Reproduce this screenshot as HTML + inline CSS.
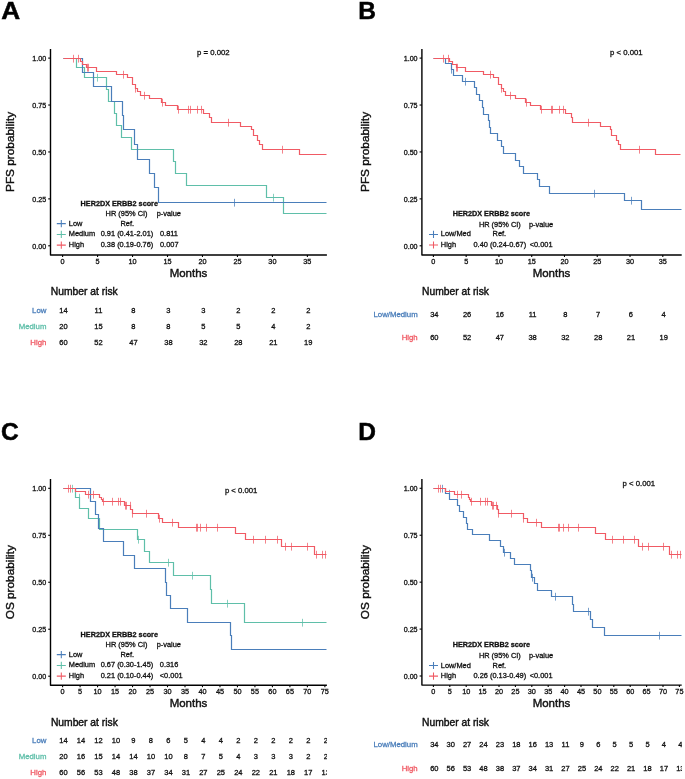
<!DOCTYPE html>
<html><head><meta charset="utf-8"><style>
html,body{margin:0;padding:0;background:#fff;}
svg{display:block;font-family:"Liberation Sans",sans-serif;will-change:transform;}
</style></head><body>
<svg width="685" height="779" viewBox="0 0 685 779">
<defs>
<clipPath id="cl"><rect x="0" y="0" width="327.1" height="779"/></clipPath>
<clipPath id="cr"><rect x="345" y="0" width="337.0" height="779"/></clipPath>
</defs>
<rect width="685" height="779" fill="#fff"/>
<g><path d="M50.50,48.90V255.00H326.90" fill="none" stroke="#000" stroke-width="1.4" stroke-linejoin="round"/>
<path d="M48.20,245.80H50.50" stroke="#000" stroke-width="1.1"/>
<text x="46.20" y="248.65" font-size="7.15" text-anchor="end" fill="#111" stroke="#111" stroke-width="0.30" font-weight="normal">0.00</text>
<path d="M48.20,198.88H50.50" stroke="#000" stroke-width="1.1"/>
<text x="46.20" y="201.72" font-size="7.15" text-anchor="end" fill="#111" stroke="#111" stroke-width="0.30" font-weight="normal">0.25</text>
<path d="M48.20,151.95H50.50" stroke="#000" stroke-width="1.1"/>
<text x="46.20" y="154.80" font-size="7.15" text-anchor="end" fill="#111" stroke="#111" stroke-width="0.30" font-weight="normal">0.50</text>
<path d="M48.20,105.03H50.50" stroke="#000" stroke-width="1.1"/>
<text x="46.20" y="107.88" font-size="7.15" text-anchor="end" fill="#111" stroke="#111" stroke-width="0.30" font-weight="normal">0.75</text>
<path d="M48.20,58.10H50.50" stroke="#000" stroke-width="1.1"/>
<text x="46.20" y="60.95" font-size="7.15" text-anchor="end" fill="#111" stroke="#111" stroke-width="0.30" font-weight="normal">1.00</text>
<path d="M62.60,255.00V257.00" stroke="#000" stroke-width="1.1"/>
<text x="62.60" y="264.00" font-size="7.30" text-anchor="middle" fill="#111" stroke="#111" stroke-width="0.30" font-weight="normal">0</text>
<path d="M97.57,255.00V257.00" stroke="#000" stroke-width="1.1"/>
<text x="97.57" y="264.00" font-size="7.30" text-anchor="middle" fill="#111" stroke="#111" stroke-width="0.30" font-weight="normal">5</text>
<path d="M132.54,255.00V257.00" stroke="#000" stroke-width="1.1"/>
<text x="132.54" y="264.00" font-size="7.30" text-anchor="middle" fill="#111" stroke="#111" stroke-width="0.30" font-weight="normal">10</text>
<path d="M167.51,255.00V257.00" stroke="#000" stroke-width="1.1"/>
<text x="167.51" y="264.00" font-size="7.30" text-anchor="middle" fill="#111" stroke="#111" stroke-width="0.30" font-weight="normal">15</text>
<path d="M202.48,255.00V257.00" stroke="#000" stroke-width="1.1"/>
<text x="202.48" y="264.00" font-size="7.30" text-anchor="middle" fill="#111" stroke="#111" stroke-width="0.30" font-weight="normal">20</text>
<path d="M237.45,255.00V257.00" stroke="#000" stroke-width="1.1"/>
<text x="237.45" y="264.00" font-size="7.30" text-anchor="middle" fill="#111" stroke="#111" stroke-width="0.30" font-weight="normal">25</text>
<path d="M272.42,255.00V257.00" stroke="#000" stroke-width="1.1"/>
<text x="272.42" y="264.00" font-size="7.30" text-anchor="middle" fill="#111" stroke="#111" stroke-width="0.30" font-weight="normal">30</text>
<path d="M307.39,255.00V257.00" stroke="#000" stroke-width="1.1"/>
<text x="307.39" y="264.00" font-size="7.30" text-anchor="middle" fill="#111" stroke="#111" stroke-width="0.30" font-weight="normal">35</text>
<text transform="translate(14.40,151.95) rotate(-90)" font-size="11.8" text-anchor="middle" fill="#111" stroke="#111" stroke-width="0.42">PFS probability</text>
<path d="M63.50,58.50H76.50V67.50H84.50V77.50H106.50V89.50H108.50V101.50H114.50V113.50H116.50V125.50H121.50V137.50H131.50V149.50H173.50V161.50H175.50V173.50H186.50V185.50H266.50V197.50H283.50V213.50H326.50" fill="none" stroke="#5fbfa9" stroke-width="1.20" stroke-linejoin="miter" stroke-linecap="butt"/>
<path d="M97.50,73.80V81.60M273.50,193.80V201.60" fill="none" stroke="#5fbfa9" stroke-width="0.75"/>
<path d="M63.50,58.50H82.50V72.50H93.50V86.50H111.50V101.50H122.50V115.50H123.50V129.50H134.50V144.50H137.50V159.50H149.50V173.50H154.50V187.50H158.50V202.50H326.50" fill="none" stroke="#4a7eba" stroke-width="1.20" stroke-linejoin="miter" stroke-linecap="butt"/>
<path d="M234.50,198.80V206.60" fill="none" stroke="#4a7eba" stroke-width="0.75"/>
<path d="M63.50,58.50H80.50V61.50H82.50V64.50H86.50V67.50H96.50V71.50H116.50V74.50H127.50V77.50H132.50V84.50H135.50V88.50H137.50V91.50H140.50V95.50H149.50V98.50H161.50V102.50H165.50V105.50H177.50V109.50H203.50V113.50H209.50V117.50H211.50V122.50H240.50V126.50H251.50V129.50H253.50V135.50H257.50V140.50H259.50V144.50H262.50V149.50H299.50V154.50H326.50" fill="none" stroke="#f05a64" stroke-width="1.20" stroke-linejoin="miter" stroke-linecap="butt"/>
<path d="M73.50,54.80V62.60M78.50,54.80V62.60M87.50,63.80V71.60M88.50,63.80V71.60M123.50,70.80V78.60M135.50,84.80V92.60M144.50,91.80V99.60M162.50,98.80V106.60M178.50,105.80V113.60M188.50,105.80V113.60M190.50,105.80V113.60M197.50,105.80V113.60M201.50,105.80V113.60M228.50,118.80V126.60M282.50,145.80V153.60" fill="none" stroke="#f05a64" stroke-width="0.75"/>
<text x="197.10" y="55.40" font-size="7.75" text-anchor="start" fill="#111" stroke="#111" stroke-width="0.30" font-weight="normal">p = 0.002</text>
<text x="80.60" y="206.10" font-size="7.25" text-anchor="start" fill="#111" stroke="#111" stroke-width="0.30" font-weight="bold">HER2DX ERBB2 score</text>
<text x="105.60" y="215.90" font-size="7.40" text-anchor="start" fill="#111" stroke="#111" stroke-width="0.30" font-weight="normal">HR (95% CI)</text>
<text x="156.70" y="215.90" font-size="7.40" text-anchor="start" fill="#111" stroke="#111" stroke-width="0.30" font-weight="normal">p-value</text>
<path d="M56.80,223.60H65.80M61.30,220.00V227.20" stroke="#4a7eba" stroke-width="1.05" fill="none"/>
<text x="68.80" y="225.60" font-size="7.40" text-anchor="start" fill="#111" stroke="#111" stroke-width="0.30" font-weight="normal">Low</text>
<text x="120.50" y="225.60" font-size="7.40" text-anchor="start" fill="#111" stroke="#111" stroke-width="0.30" font-weight="normal">Ref.</text>
<path d="M56.80,234.40H65.80M61.30,230.80V238.00" stroke="#5fbfa9" stroke-width="1.05" fill="none"/>
<text x="68.80" y="236.40" font-size="7.40" text-anchor="start" fill="#111" stroke="#111" stroke-width="0.30" font-weight="normal">Medium</text>
<text x="100.70" y="236.40" font-size="7.40" text-anchor="start" fill="#111" stroke="#111" stroke-width="0.30" font-weight="normal">0.91 (0.41-2.01)</text>
<text x="160.00" y="236.40" font-size="7.40" text-anchor="start" fill="#111" stroke="#111" stroke-width="0.30" font-weight="normal">0.811</text>
<path d="M56.80,245.10H65.80M61.30,241.50V248.70" stroke="#f05a64" stroke-width="1.05" fill="none"/>
<text x="68.80" y="247.10" font-size="7.40" text-anchor="start" fill="#111" stroke="#111" stroke-width="0.30" font-weight="normal">High</text>
<text x="100.70" y="247.10" font-size="7.40" text-anchor="start" fill="#111" stroke="#111" stroke-width="0.30" font-weight="normal">0.38 (0.19-0.76)</text>
<text x="160.00" y="247.10" font-size="7.40" text-anchor="start" fill="#111" stroke="#111" stroke-width="0.30" font-weight="normal">0.007</text>
<text x="188.50" y="276.90" font-size="11.50" text-anchor="middle" fill="#111" stroke="#111" stroke-width="0.42" font-weight="normal">Months</text>
<text x="50.80" y="295.30" font-size="10.30" text-anchor="start" fill="#111" stroke="#111" stroke-width="0.42" font-weight="normal">Number at risk</text>
<text x="46.40" y="312.60" font-size="7.80" text-anchor="end" fill="#4a7eba" stroke="#4a7eba" stroke-width="0.30" font-weight="normal">Low</text>
<text x="46.40" y="328.50" font-size="7.80" text-anchor="end" fill="#5fbfa9" stroke="#5fbfa9" stroke-width="0.30" font-weight="normal">Medium</text>
<text x="46.40" y="344.90" font-size="7.80" text-anchor="end" fill="#f05a64" stroke="#f05a64" stroke-width="0.30" font-weight="normal">High</text>
<text x="63.50" y="312.60" font-size="7.50" text-anchor="middle" fill="#111" stroke="#111" stroke-width="0.30" font-weight="normal">14</text>
<text x="98.47" y="312.60" font-size="7.50" text-anchor="middle" fill="#111" stroke="#111" stroke-width="0.30" font-weight="normal">11</text>
<text x="133.44" y="312.60" font-size="7.50" text-anchor="middle" fill="#111" stroke="#111" stroke-width="0.30" font-weight="normal">8</text>
<text x="168.41" y="312.60" font-size="7.50" text-anchor="middle" fill="#111" stroke="#111" stroke-width="0.30" font-weight="normal">3</text>
<text x="203.38" y="312.60" font-size="7.50" text-anchor="middle" fill="#111" stroke="#111" stroke-width="0.30" font-weight="normal">3</text>
<text x="238.35" y="312.60" font-size="7.50" text-anchor="middle" fill="#111" stroke="#111" stroke-width="0.30" font-weight="normal">2</text>
<text x="273.32" y="312.60" font-size="7.50" text-anchor="middle" fill="#111" stroke="#111" stroke-width="0.30" font-weight="normal">2</text>
<text x="308.29" y="312.60" font-size="7.50" text-anchor="middle" fill="#111" stroke="#111" stroke-width="0.30" font-weight="normal">2</text>
<text x="63.50" y="328.50" font-size="7.50" text-anchor="middle" fill="#111" stroke="#111" stroke-width="0.30" font-weight="normal">20</text>
<text x="98.47" y="328.50" font-size="7.50" text-anchor="middle" fill="#111" stroke="#111" stroke-width="0.30" font-weight="normal">15</text>
<text x="133.44" y="328.50" font-size="7.50" text-anchor="middle" fill="#111" stroke="#111" stroke-width="0.30" font-weight="normal">8</text>
<text x="168.41" y="328.50" font-size="7.50" text-anchor="middle" fill="#111" stroke="#111" stroke-width="0.30" font-weight="normal">8</text>
<text x="203.38" y="328.50" font-size="7.50" text-anchor="middle" fill="#111" stroke="#111" stroke-width="0.30" font-weight="normal">5</text>
<text x="238.35" y="328.50" font-size="7.50" text-anchor="middle" fill="#111" stroke="#111" stroke-width="0.30" font-weight="normal">5</text>
<text x="273.32" y="328.50" font-size="7.50" text-anchor="middle" fill="#111" stroke="#111" stroke-width="0.30" font-weight="normal">4</text>
<text x="308.29" y="328.50" font-size="7.50" text-anchor="middle" fill="#111" stroke="#111" stroke-width="0.30" font-weight="normal">2</text>
<text x="63.50" y="344.90" font-size="7.50" text-anchor="middle" fill="#111" stroke="#111" stroke-width="0.30" font-weight="normal">60</text>
<text x="98.47" y="344.90" font-size="7.50" text-anchor="middle" fill="#111" stroke="#111" stroke-width="0.30" font-weight="normal">52</text>
<text x="133.44" y="344.90" font-size="7.50" text-anchor="middle" fill="#111" stroke="#111" stroke-width="0.30" font-weight="normal">47</text>
<text x="168.41" y="344.90" font-size="7.50" text-anchor="middle" fill="#111" stroke="#111" stroke-width="0.30" font-weight="normal">38</text>
<text x="203.38" y="344.90" font-size="7.50" text-anchor="middle" fill="#111" stroke="#111" stroke-width="0.30" font-weight="normal">32</text>
<text x="238.35" y="344.90" font-size="7.50" text-anchor="middle" fill="#111" stroke="#111" stroke-width="0.30" font-weight="normal">28</text>
<text x="273.32" y="344.90" font-size="7.50" text-anchor="middle" fill="#111" stroke="#111" stroke-width="0.30" font-weight="normal">21</text>
<text x="308.29" y="344.90" font-size="7.50" text-anchor="middle" fill="#111" stroke="#111" stroke-width="0.30" font-weight="normal">19</text></g>
<g><path d="M421.90,48.90V255.00H681.70" fill="none" stroke="#000" stroke-width="1.4" stroke-linejoin="round"/>
<path d="M419.60,245.80H421.90" stroke="#000" stroke-width="1.1"/>
<text x="417.60" y="248.65" font-size="7.15" text-anchor="end" fill="#111" stroke="#111" stroke-width="0.30" font-weight="normal">0.00</text>
<path d="M419.60,198.88H421.90" stroke="#000" stroke-width="1.1"/>
<text x="417.60" y="201.72" font-size="7.15" text-anchor="end" fill="#111" stroke="#111" stroke-width="0.30" font-weight="normal">0.25</text>
<path d="M419.60,151.95H421.90" stroke="#000" stroke-width="1.1"/>
<text x="417.60" y="154.80" font-size="7.15" text-anchor="end" fill="#111" stroke="#111" stroke-width="0.30" font-weight="normal">0.50</text>
<path d="M419.60,105.03H421.90" stroke="#000" stroke-width="1.1"/>
<text x="417.60" y="107.88" font-size="7.15" text-anchor="end" fill="#111" stroke="#111" stroke-width="0.30" font-weight="normal">0.75</text>
<path d="M419.60,58.10H421.90" stroke="#000" stroke-width="1.1"/>
<text x="417.60" y="60.95" font-size="7.15" text-anchor="end" fill="#111" stroke="#111" stroke-width="0.30" font-weight="normal">1.00</text>
<path d="M433.40,255.00V257.00" stroke="#000" stroke-width="1.1"/>
<text x="433.40" y="264.00" font-size="7.30" text-anchor="middle" fill="#111" stroke="#111" stroke-width="0.30" font-weight="normal">0</text>
<path d="M466.17,255.00V257.00" stroke="#000" stroke-width="1.1"/>
<text x="466.17" y="264.00" font-size="7.30" text-anchor="middle" fill="#111" stroke="#111" stroke-width="0.30" font-weight="normal">5</text>
<path d="M498.94,255.00V257.00" stroke="#000" stroke-width="1.1"/>
<text x="498.94" y="264.00" font-size="7.30" text-anchor="middle" fill="#111" stroke="#111" stroke-width="0.30" font-weight="normal">10</text>
<path d="M531.71,255.00V257.00" stroke="#000" stroke-width="1.1"/>
<text x="531.71" y="264.00" font-size="7.30" text-anchor="middle" fill="#111" stroke="#111" stroke-width="0.30" font-weight="normal">15</text>
<path d="M564.48,255.00V257.00" stroke="#000" stroke-width="1.1"/>
<text x="564.48" y="264.00" font-size="7.30" text-anchor="middle" fill="#111" stroke="#111" stroke-width="0.30" font-weight="normal">20</text>
<path d="M597.25,255.00V257.00" stroke="#000" stroke-width="1.1"/>
<text x="597.25" y="264.00" font-size="7.30" text-anchor="middle" fill="#111" stroke="#111" stroke-width="0.30" font-weight="normal">25</text>
<path d="M630.02,255.00V257.00" stroke="#000" stroke-width="1.1"/>
<text x="630.02" y="264.00" font-size="7.30" text-anchor="middle" fill="#111" stroke="#111" stroke-width="0.30" font-weight="normal">30</text>
<path d="M662.79,255.00V257.00" stroke="#000" stroke-width="1.1"/>
<text x="662.79" y="264.00" font-size="7.30" text-anchor="middle" fill="#111" stroke="#111" stroke-width="0.30" font-weight="normal">35</text>
<text transform="translate(369.30,151.95) rotate(-90)" font-size="11.8" text-anchor="middle" fill="#111" stroke="#111" stroke-width="0.42">PFS probability</text>
<path d="M433.50,58.50H445.50V63.50H451.50V69.50H453.50V75.50H462.50V81.50H474.50V87.50H476.50V94.50H479.50V100.50H482.50V107.50H483.50V114.50H488.50V120.50H489.50V127.50H490.50V133.50H497.50V140.50H501.50V146.50H503.50V153.50H515.50V160.50H519.50V166.50H523.50V173.50H537.50V179.50H539.50V186.50H549.50V193.50H624.50V200.50H641.50V209.50H681.50" fill="none" stroke="#4a7eba" stroke-width="1.20" stroke-linejoin="miter" stroke-linecap="butt"/>
<path d="M451.50,65.80V73.60M465.50,77.80V85.60M594.50,189.80V197.60M631.50,196.80V204.60" fill="none" stroke="#4a7eba" stroke-width="0.75"/>
<path d="M433.50,58.50H449.50V61.50H452.50V64.50H456.50V67.50H465.50V71.50H483.50V74.50H493.50V77.50H498.50V84.50H501.50V88.50H503.50V91.50H505.50V95.50H515.50V98.50H525.50V102.50H530.50V105.50H540.50V109.50H565.50V113.50H571.50V117.50H572.50V122.50H600.50V126.50H610.50V129.50H611.50V135.50H616.50V140.50H618.50V144.50H620.50V149.50H655.50V154.50H680.50" fill="none" stroke="#f05a64" stroke-width="1.20" stroke-linejoin="miter" stroke-linecap="butt"/>
<path d="M443.50,54.80V62.60M448.50,54.80V62.60M456.50,63.80V71.60M457.50,63.80V71.60M490.50,70.80V78.60M501.50,84.80V92.60M510.50,91.80V99.60M526.50,98.80V106.60M541.50,105.80V113.60M551.50,105.80V113.60M552.50,105.80V113.60M559.50,105.80V113.60M563.50,105.80V113.60M588.50,118.80V126.60M639.50,145.80V153.60" fill="none" stroke="#f05a64" stroke-width="0.75"/>
<text x="610.10" y="55.40" font-size="7.75" text-anchor="start" fill="#111" stroke="#111" stroke-width="0.30" font-weight="normal">p &lt; 0.001</text>
<text x="452.70" y="216.40" font-size="7.25" text-anchor="start" fill="#111" stroke="#111" stroke-width="0.30" font-weight="bold">HER2DX ERBB2 score</text>
<text x="478.90" y="227.10" font-size="7.40" text-anchor="start" fill="#111" stroke="#111" stroke-width="0.30" font-weight="normal">HR (95% CI)</text>
<text x="528.90" y="227.10" font-size="7.40" text-anchor="start" fill="#111" stroke="#111" stroke-width="0.30" font-weight="normal">p-value</text>
<path d="M429.00,234.40H438.00M433.50,230.80V238.00" stroke="#4a7eba" stroke-width="1.05" fill="none"/>
<text x="440.80" y="236.40" font-size="7.40" text-anchor="start" fill="#111" stroke="#111" stroke-width="0.30" font-weight="normal">Low/Med</text>
<text x="492.60" y="236.40" font-size="7.40" text-anchor="start" fill="#111" stroke="#111" stroke-width="0.30" font-weight="normal">Ref.</text>
<path d="M429.00,245.00H438.00M433.50,241.40V248.60" stroke="#f05a64" stroke-width="1.05" fill="none"/>
<text x="440.80" y="247.00" font-size="7.40" text-anchor="start" fill="#111" stroke="#111" stroke-width="0.30" font-weight="normal">High</text>
<text x="473.50" y="247.00" font-size="7.40" text-anchor="start" fill="#111" stroke="#111" stroke-width="0.30" font-weight="normal">0.40 (0.24-0.67)</text>
<text x="529.70" y="247.00" font-size="7.40" text-anchor="start" fill="#111" stroke="#111" stroke-width="0.30" font-weight="normal">&lt;0.001</text>
<text x="551.50" y="277.20" font-size="11.50" text-anchor="middle" fill="#111" stroke="#111" stroke-width="0.42" font-weight="normal">Months</text>
<text x="422.00" y="295.30" font-size="10.30" text-anchor="start" fill="#111" stroke="#111" stroke-width="0.42" font-weight="normal">Number at risk</text>
<text x="417.70" y="316.60" font-size="7.80" text-anchor="end" fill="#4a7eba" stroke="#4a7eba" stroke-width="0.30" font-weight="normal">Low/Medium</text>
<text x="417.70" y="340.30" font-size="7.80" text-anchor="end" fill="#f05a64" stroke="#f05a64" stroke-width="0.30" font-weight="normal">High</text>
<text x="434.30" y="316.60" font-size="7.50" text-anchor="middle" fill="#111" stroke="#111" stroke-width="0.30" font-weight="normal">34</text>
<text x="467.07" y="316.60" font-size="7.50" text-anchor="middle" fill="#111" stroke="#111" stroke-width="0.30" font-weight="normal">26</text>
<text x="499.84" y="316.60" font-size="7.50" text-anchor="middle" fill="#111" stroke="#111" stroke-width="0.30" font-weight="normal">16</text>
<text x="532.61" y="316.60" font-size="7.50" text-anchor="middle" fill="#111" stroke="#111" stroke-width="0.30" font-weight="normal">11</text>
<text x="565.38" y="316.60" font-size="7.50" text-anchor="middle" fill="#111" stroke="#111" stroke-width="0.30" font-weight="normal">8</text>
<text x="598.15" y="316.60" font-size="7.50" text-anchor="middle" fill="#111" stroke="#111" stroke-width="0.30" font-weight="normal">7</text>
<text x="630.92" y="316.60" font-size="7.50" text-anchor="middle" fill="#111" stroke="#111" stroke-width="0.30" font-weight="normal">6</text>
<text x="663.69" y="316.60" font-size="7.50" text-anchor="middle" fill="#111" stroke="#111" stroke-width="0.30" font-weight="normal">4</text>
<text x="434.30" y="340.30" font-size="7.50" text-anchor="middle" fill="#111" stroke="#111" stroke-width="0.30" font-weight="normal">60</text>
<text x="467.07" y="340.30" font-size="7.50" text-anchor="middle" fill="#111" stroke="#111" stroke-width="0.30" font-weight="normal">52</text>
<text x="499.84" y="340.30" font-size="7.50" text-anchor="middle" fill="#111" stroke="#111" stroke-width="0.30" font-weight="normal">47</text>
<text x="532.61" y="340.30" font-size="7.50" text-anchor="middle" fill="#111" stroke="#111" stroke-width="0.30" font-weight="normal">38</text>
<text x="565.38" y="340.30" font-size="7.50" text-anchor="middle" fill="#111" stroke="#111" stroke-width="0.30" font-weight="normal">32</text>
<text x="598.15" y="340.30" font-size="7.50" text-anchor="middle" fill="#111" stroke="#111" stroke-width="0.30" font-weight="normal">28</text>
<text x="630.92" y="340.30" font-size="7.50" text-anchor="middle" fill="#111" stroke="#111" stroke-width="0.30" font-weight="normal">21</text>
<text x="663.69" y="340.30" font-size="7.50" text-anchor="middle" fill="#111" stroke="#111" stroke-width="0.30" font-weight="normal">19</text></g>
<g><path d="M50.50,479.00V685.20H326.90" fill="none" stroke="#000" stroke-width="1.4" stroke-linejoin="round"/>
<path d="M48.20,676.20H50.50" stroke="#000" stroke-width="1.1"/>
<text x="46.20" y="679.05" font-size="7.15" text-anchor="end" fill="#111" stroke="#111" stroke-width="0.30" font-weight="normal">0.00</text>
<path d="M48.20,629.23H50.50" stroke="#000" stroke-width="1.1"/>
<text x="46.20" y="632.08" font-size="7.15" text-anchor="end" fill="#111" stroke="#111" stroke-width="0.30" font-weight="normal">0.25</text>
<path d="M48.20,582.25H50.50" stroke="#000" stroke-width="1.1"/>
<text x="46.20" y="585.10" font-size="7.15" text-anchor="end" fill="#111" stroke="#111" stroke-width="0.30" font-weight="normal">0.50</text>
<path d="M48.20,535.28H50.50" stroke="#000" stroke-width="1.1"/>
<text x="46.20" y="538.13" font-size="7.15" text-anchor="end" fill="#111" stroke="#111" stroke-width="0.30" font-weight="normal">0.75</text>
<path d="M48.20,488.30H50.50" stroke="#000" stroke-width="1.1"/>
<text x="46.20" y="491.15" font-size="7.15" text-anchor="end" fill="#111" stroke="#111" stroke-width="0.30" font-weight="normal">1.00</text>
<path d="M62.60,685.20V687.20" stroke="#000" stroke-width="1.1"/>
<text x="62.60" y="694.00" font-size="7.30" text-anchor="middle" fill="#111" stroke="#111" stroke-width="0.30" font-weight="normal">0</text>
<path d="M80.09,685.20V687.20" stroke="#000" stroke-width="1.1"/>
<text x="80.09" y="694.00" font-size="7.30" text-anchor="middle" fill="#111" stroke="#111" stroke-width="0.30" font-weight="normal">5</text>
<path d="M97.57,685.20V687.20" stroke="#000" stroke-width="1.1"/>
<text x="97.57" y="694.00" font-size="7.30" text-anchor="middle" fill="#111" stroke="#111" stroke-width="0.30" font-weight="normal">10</text>
<path d="M115.06,685.20V687.20" stroke="#000" stroke-width="1.1"/>
<text x="115.06" y="694.00" font-size="7.30" text-anchor="middle" fill="#111" stroke="#111" stroke-width="0.30" font-weight="normal">15</text>
<path d="M132.54,685.20V687.20" stroke="#000" stroke-width="1.1"/>
<text x="132.54" y="694.00" font-size="7.30" text-anchor="middle" fill="#111" stroke="#111" stroke-width="0.30" font-weight="normal">20</text>
<path d="M150.03,685.20V687.20" stroke="#000" stroke-width="1.1"/>
<text x="150.03" y="694.00" font-size="7.30" text-anchor="middle" fill="#111" stroke="#111" stroke-width="0.30" font-weight="normal">25</text>
<path d="M167.51,685.20V687.20" stroke="#000" stroke-width="1.1"/>
<text x="167.51" y="694.00" font-size="7.30" text-anchor="middle" fill="#111" stroke="#111" stroke-width="0.30" font-weight="normal">30</text>
<path d="M185.00,685.20V687.20" stroke="#000" stroke-width="1.1"/>
<text x="185.00" y="694.00" font-size="7.30" text-anchor="middle" fill="#111" stroke="#111" stroke-width="0.30" font-weight="normal">35</text>
<path d="M202.48,685.20V687.20" stroke="#000" stroke-width="1.1"/>
<text x="202.48" y="694.00" font-size="7.30" text-anchor="middle" fill="#111" stroke="#111" stroke-width="0.30" font-weight="normal">40</text>
<path d="M219.97,685.20V687.20" stroke="#000" stroke-width="1.1"/>
<text x="219.97" y="694.00" font-size="7.30" text-anchor="middle" fill="#111" stroke="#111" stroke-width="0.30" font-weight="normal">45</text>
<path d="M237.45,685.20V687.20" stroke="#000" stroke-width="1.1"/>
<text x="237.45" y="694.00" font-size="7.30" text-anchor="middle" fill="#111" stroke="#111" stroke-width="0.30" font-weight="normal">50</text>
<path d="M254.93,685.20V687.20" stroke="#000" stroke-width="1.1"/>
<text x="254.93" y="694.00" font-size="7.30" text-anchor="middle" fill="#111" stroke="#111" stroke-width="0.30" font-weight="normal">55</text>
<path d="M272.42,685.20V687.20" stroke="#000" stroke-width="1.1"/>
<text x="272.42" y="694.00" font-size="7.30" text-anchor="middle" fill="#111" stroke="#111" stroke-width="0.30" font-weight="normal">60</text>
<path d="M289.91,685.20V687.20" stroke="#000" stroke-width="1.1"/>
<text x="289.91" y="694.00" font-size="7.30" text-anchor="middle" fill="#111" stroke="#111" stroke-width="0.30" font-weight="normal">65</text>
<path d="M307.39,685.20V687.20" stroke="#000" stroke-width="1.1"/>
<text x="307.39" y="694.00" font-size="7.30" text-anchor="middle" fill="#111" stroke="#111" stroke-width="0.30" font-weight="normal">70</text>
<path d="M324.88,685.20V687.20" stroke="#000" stroke-width="1.1"/>
<text x="324.88" y="694.00" font-size="7.30" text-anchor="middle" fill="#111" stroke="#111" stroke-width="0.30" font-weight="normal">75</text>
<text transform="translate(14.40,582.25) rotate(-90)" font-size="11.8" text-anchor="middle" fill="#111" stroke="#111" stroke-width="0.42">OS probability</text>
<path d="M63.50,488.50H75.50V497.50H79.50V508.50H88.50V518.50H99.50V529.50H137.50V539.50H144.50V551.50H149.50V562.50H173.50V575.50H210.50V589.50H211.50V603.50H244.50V622.50H326.50" fill="none" stroke="#5fbfa9" stroke-width="1.20" stroke-linejoin="miter" stroke-linecap="butt"/>
<path d="M72.50,484.80V492.60M79.50,493.80V501.60M138.50,535.80V543.60M168.50,558.80V566.60M192.50,571.80V579.60M227.50,599.80V607.60M302.50,618.80V626.60" fill="none" stroke="#5fbfa9" stroke-width="0.75"/>
<path d="M63.50,488.50H90.50V501.50H95.50V514.50H98.50V528.50H103.50V541.50H123.50V555.50H134.50V568.50H165.50V582.50H166.50V595.50H170.50V608.50H187.50V622.50H230.50V635.50H231.50V649.50H326.50" fill="none" stroke="#4a7eba" stroke-width="1.20" stroke-linejoin="miter" stroke-linecap="butt"/>
<path d="M63.50,488.50H75.50V491.50H85.50V494.50H99.50V497.50H101.50V499.50H102.50V501.50H124.50V505.50H130.50V509.50H132.50V513.50H158.50V518.50H162.50V522.50H178.50V527.50H235.50V533.50H245.50V539.50H281.50V546.50H314.50V554.50H326.50" fill="none" stroke="#f05a64" stroke-width="1.20" stroke-linejoin="miter" stroke-linecap="butt"/>
<path d="M68.50,484.80V492.60M70.50,484.80V492.60M88.50,490.80V498.60M93.50,490.80V498.60M103.50,497.80V505.60M112.50,497.80V505.60M118.50,497.80V505.60M120.50,497.80V505.60M125.50,501.80V509.60M126.50,501.80V509.60M130.50,501.80V509.60M132.50,509.80V517.60M146.50,509.80V517.60M159.50,514.80V522.60M172.50,518.80V526.60M196.50,523.80V531.60M197.50,523.80V531.60M200.50,523.80V531.60M206.50,523.80V531.60M217.50,523.80V531.60M253.50,535.80V543.60M265.50,535.80V543.60M277.50,535.80V543.60M285.50,542.80V550.60M291.50,542.80V550.60M307.50,542.80V550.60M316.50,550.80V558.60M322.50,550.80V558.60M325.50,550.80V558.60" fill="none" stroke="#f05a64" stroke-width="0.75"/>
<text x="224.90" y="493.40" font-size="7.75" text-anchor="start" fill="#111" stroke="#111" stroke-width="0.30" font-weight="normal">p &lt; 0.001</text>
<text x="80.60" y="637.30" font-size="7.25" text-anchor="start" fill="#111" stroke="#111" stroke-width="0.30" font-weight="bold">HER2DX ERBB2 score</text>
<text x="105.60" y="646.90" font-size="7.40" text-anchor="start" fill="#111" stroke="#111" stroke-width="0.30" font-weight="normal">HR (95% CI)</text>
<text x="156.70" y="646.90" font-size="7.40" text-anchor="start" fill="#111" stroke="#111" stroke-width="0.30" font-weight="normal">p-value</text>
<path d="M56.80,654.60H65.80M61.30,651.00V658.20" stroke="#4a7eba" stroke-width="1.05" fill="none"/>
<text x="68.80" y="656.60" font-size="7.40" text-anchor="start" fill="#111" stroke="#111" stroke-width="0.30" font-weight="normal">Low</text>
<text x="120.50" y="656.60" font-size="7.40" text-anchor="start" fill="#111" stroke="#111" stroke-width="0.30" font-weight="normal">Ref.</text>
<path d="M56.80,665.40H65.80M61.30,661.80V669.00" stroke="#5fbfa9" stroke-width="1.05" fill="none"/>
<text x="68.80" y="667.40" font-size="7.40" text-anchor="start" fill="#111" stroke="#111" stroke-width="0.30" font-weight="normal">Medium</text>
<text x="100.70" y="667.40" font-size="7.40" text-anchor="start" fill="#111" stroke="#111" stroke-width="0.30" font-weight="normal">0.67 (0.30-1.45)</text>
<text x="159.80" y="667.40" font-size="7.40" text-anchor="start" fill="#111" stroke="#111" stroke-width="0.30" font-weight="normal">0.316</text>
<path d="M56.80,676.10H65.80M61.30,672.50V679.70" stroke="#f05a64" stroke-width="1.05" fill="none"/>
<text x="68.80" y="678.10" font-size="7.40" text-anchor="start" fill="#111" stroke="#111" stroke-width="0.30" font-weight="normal">High</text>
<text x="100.70" y="678.10" font-size="7.40" text-anchor="start" fill="#111" stroke="#111" stroke-width="0.30" font-weight="normal">0.21 (0.10-0.44)</text>
<text x="159.80" y="678.10" font-size="7.40" text-anchor="start" fill="#111" stroke="#111" stroke-width="0.30" font-weight="normal">&lt;0.001</text>
<text x="188.50" y="706.90" font-size="11.50" text-anchor="middle" fill="#111" stroke="#111" stroke-width="0.42" font-weight="normal">Months</text>
<text x="50.90" y="726.00" font-size="10.30" text-anchor="start" fill="#111" stroke="#111" stroke-width="0.42" font-weight="normal">Number at risk</text>
<text x="46.40" y="742.70" font-size="7.80" text-anchor="end" fill="#4a7eba" stroke="#4a7eba" stroke-width="0.30" font-weight="normal">Low</text>
<text x="46.40" y="758.70" font-size="7.80" text-anchor="end" fill="#5fbfa9" stroke="#5fbfa9" stroke-width="0.30" font-weight="normal">Medium</text>
<text x="46.40" y="775.10" font-size="7.80" text-anchor="end" fill="#f05a64" stroke="#f05a64" stroke-width="0.30" font-weight="normal">High</text>
<g clip-path="url(#cl)">
<text x="63.50" y="742.70" font-size="7.50" text-anchor="middle" fill="#111" stroke="#111" stroke-width="0.30" font-weight="normal">14</text>
<text x="80.99" y="742.70" font-size="7.50" text-anchor="middle" fill="#111" stroke="#111" stroke-width="0.30" font-weight="normal">14</text>
<text x="98.47" y="742.70" font-size="7.50" text-anchor="middle" fill="#111" stroke="#111" stroke-width="0.30" font-weight="normal">12</text>
<text x="115.96" y="742.70" font-size="7.50" text-anchor="middle" fill="#111" stroke="#111" stroke-width="0.30" font-weight="normal">10</text>
<text x="133.44" y="742.70" font-size="7.50" text-anchor="middle" fill="#111" stroke="#111" stroke-width="0.30" font-weight="normal">9</text>
<text x="150.93" y="742.70" font-size="7.50" text-anchor="middle" fill="#111" stroke="#111" stroke-width="0.30" font-weight="normal">8</text>
<text x="168.41" y="742.70" font-size="7.50" text-anchor="middle" fill="#111" stroke="#111" stroke-width="0.30" font-weight="normal">6</text>
<text x="185.90" y="742.70" font-size="7.50" text-anchor="middle" fill="#111" stroke="#111" stroke-width="0.30" font-weight="normal">5</text>
<text x="203.38" y="742.70" font-size="7.50" text-anchor="middle" fill="#111" stroke="#111" stroke-width="0.30" font-weight="normal">4</text>
<text x="220.87" y="742.70" font-size="7.50" text-anchor="middle" fill="#111" stroke="#111" stroke-width="0.30" font-weight="normal">4</text>
<text x="238.35" y="742.70" font-size="7.50" text-anchor="middle" fill="#111" stroke="#111" stroke-width="0.30" font-weight="normal">2</text>
<text x="255.83" y="742.70" font-size="7.50" text-anchor="middle" fill="#111" stroke="#111" stroke-width="0.30" font-weight="normal">2</text>
<text x="273.32" y="742.70" font-size="7.50" text-anchor="middle" fill="#111" stroke="#111" stroke-width="0.30" font-weight="normal">2</text>
<text x="290.81" y="742.70" font-size="7.50" text-anchor="middle" fill="#111" stroke="#111" stroke-width="0.30" font-weight="normal">2</text>
<text x="308.29" y="742.70" font-size="7.50" text-anchor="middle" fill="#111" stroke="#111" stroke-width="0.30" font-weight="normal">2</text>
<text x="325.77" y="742.70" font-size="7.50" text-anchor="middle" fill="#111" stroke="#111" stroke-width="0.30" font-weight="normal">2</text>
<text x="63.50" y="758.70" font-size="7.50" text-anchor="middle" fill="#111" stroke="#111" stroke-width="0.30" font-weight="normal">20</text>
<text x="80.99" y="758.70" font-size="7.50" text-anchor="middle" fill="#111" stroke="#111" stroke-width="0.30" font-weight="normal">16</text>
<text x="98.47" y="758.70" font-size="7.50" text-anchor="middle" fill="#111" stroke="#111" stroke-width="0.30" font-weight="normal">15</text>
<text x="115.96" y="758.70" font-size="7.50" text-anchor="middle" fill="#111" stroke="#111" stroke-width="0.30" font-weight="normal">14</text>
<text x="133.44" y="758.70" font-size="7.50" text-anchor="middle" fill="#111" stroke="#111" stroke-width="0.30" font-weight="normal">14</text>
<text x="150.93" y="758.70" font-size="7.50" text-anchor="middle" fill="#111" stroke="#111" stroke-width="0.30" font-weight="normal">10</text>
<text x="168.41" y="758.70" font-size="7.50" text-anchor="middle" fill="#111" stroke="#111" stroke-width="0.30" font-weight="normal">10</text>
<text x="185.90" y="758.70" font-size="7.50" text-anchor="middle" fill="#111" stroke="#111" stroke-width="0.30" font-weight="normal">8</text>
<text x="203.38" y="758.70" font-size="7.50" text-anchor="middle" fill="#111" stroke="#111" stroke-width="0.30" font-weight="normal">7</text>
<text x="220.87" y="758.70" font-size="7.50" text-anchor="middle" fill="#111" stroke="#111" stroke-width="0.30" font-weight="normal">5</text>
<text x="238.35" y="758.70" font-size="7.50" text-anchor="middle" fill="#111" stroke="#111" stroke-width="0.30" font-weight="normal">4</text>
<text x="255.83" y="758.70" font-size="7.50" text-anchor="middle" fill="#111" stroke="#111" stroke-width="0.30" font-weight="normal">3</text>
<text x="273.32" y="758.70" font-size="7.50" text-anchor="middle" fill="#111" stroke="#111" stroke-width="0.30" font-weight="normal">3</text>
<text x="290.81" y="758.70" font-size="7.50" text-anchor="middle" fill="#111" stroke="#111" stroke-width="0.30" font-weight="normal">3</text>
<text x="308.29" y="758.70" font-size="7.50" text-anchor="middle" fill="#111" stroke="#111" stroke-width="0.30" font-weight="normal">2</text>
<text x="325.77" y="758.70" font-size="7.50" text-anchor="middle" fill="#111" stroke="#111" stroke-width="0.30" font-weight="normal">2</text>
<text x="63.50" y="775.10" font-size="7.50" text-anchor="middle" fill="#111" stroke="#111" stroke-width="0.30" font-weight="normal">60</text>
<text x="80.99" y="775.10" font-size="7.50" text-anchor="middle" fill="#111" stroke="#111" stroke-width="0.30" font-weight="normal">56</text>
<text x="98.47" y="775.10" font-size="7.50" text-anchor="middle" fill="#111" stroke="#111" stroke-width="0.30" font-weight="normal">53</text>
<text x="115.96" y="775.10" font-size="7.50" text-anchor="middle" fill="#111" stroke="#111" stroke-width="0.30" font-weight="normal">48</text>
<text x="133.44" y="775.10" font-size="7.50" text-anchor="middle" fill="#111" stroke="#111" stroke-width="0.30" font-weight="normal">38</text>
<text x="150.93" y="775.10" font-size="7.50" text-anchor="middle" fill="#111" stroke="#111" stroke-width="0.30" font-weight="normal">37</text>
<text x="168.41" y="775.10" font-size="7.50" text-anchor="middle" fill="#111" stroke="#111" stroke-width="0.30" font-weight="normal">34</text>
<text x="185.90" y="775.10" font-size="7.50" text-anchor="middle" fill="#111" stroke="#111" stroke-width="0.30" font-weight="normal">31</text>
<text x="203.38" y="775.10" font-size="7.50" text-anchor="middle" fill="#111" stroke="#111" stroke-width="0.30" font-weight="normal">27</text>
<text x="220.87" y="775.10" font-size="7.50" text-anchor="middle" fill="#111" stroke="#111" stroke-width="0.30" font-weight="normal">25</text>
<text x="238.35" y="775.10" font-size="7.50" text-anchor="middle" fill="#111" stroke="#111" stroke-width="0.30" font-weight="normal">24</text>
<text x="255.83" y="775.10" font-size="7.50" text-anchor="middle" fill="#111" stroke="#111" stroke-width="0.30" font-weight="normal">22</text>
<text x="273.32" y="775.10" font-size="7.50" text-anchor="middle" fill="#111" stroke="#111" stroke-width="0.30" font-weight="normal">21</text>
<text x="290.81" y="775.10" font-size="7.50" text-anchor="middle" fill="#111" stroke="#111" stroke-width="0.30" font-weight="normal">18</text>
<text x="308.29" y="775.10" font-size="7.50" text-anchor="middle" fill="#111" stroke="#111" stroke-width="0.30" font-weight="normal">17</text>
<text x="325.77" y="775.10" font-size="7.50" text-anchor="middle" fill="#111" stroke="#111" stroke-width="0.30" font-weight="normal">13</text>
</g></g>
<g><path d="M421.90,479.00V685.10H681.70" fill="none" stroke="#000" stroke-width="1.4" stroke-linejoin="round"/>
<path d="M419.60,676.00H421.90" stroke="#000" stroke-width="1.1"/>
<text x="417.60" y="678.85" font-size="7.15" text-anchor="end" fill="#111" stroke="#111" stroke-width="0.30" font-weight="normal">0.00</text>
<path d="M419.60,629.08H421.90" stroke="#000" stroke-width="1.1"/>
<text x="417.60" y="631.93" font-size="7.15" text-anchor="end" fill="#111" stroke="#111" stroke-width="0.30" font-weight="normal">0.25</text>
<path d="M419.60,582.15H421.90" stroke="#000" stroke-width="1.1"/>
<text x="417.60" y="585.00" font-size="7.15" text-anchor="end" fill="#111" stroke="#111" stroke-width="0.30" font-weight="normal">0.50</text>
<path d="M419.60,535.23H421.90" stroke="#000" stroke-width="1.1"/>
<text x="417.60" y="538.08" font-size="7.15" text-anchor="end" fill="#111" stroke="#111" stroke-width="0.30" font-weight="normal">0.75</text>
<path d="M419.60,488.30H421.90" stroke="#000" stroke-width="1.1"/>
<text x="417.60" y="491.15" font-size="7.15" text-anchor="end" fill="#111" stroke="#111" stroke-width="0.30" font-weight="normal">1.00</text>
<path d="M433.40,685.10V687.10" stroke="#000" stroke-width="1.1"/>
<text x="433.40" y="694.00" font-size="7.30" text-anchor="middle" fill="#111" stroke="#111" stroke-width="0.30" font-weight="normal">0</text>
<path d="M449.80,685.10V687.10" stroke="#000" stroke-width="1.1"/>
<text x="449.80" y="694.00" font-size="7.30" text-anchor="middle" fill="#111" stroke="#111" stroke-width="0.30" font-weight="normal">5</text>
<path d="M466.20,685.10V687.10" stroke="#000" stroke-width="1.1"/>
<text x="466.20" y="694.00" font-size="7.30" text-anchor="middle" fill="#111" stroke="#111" stroke-width="0.30" font-weight="normal">10</text>
<path d="M482.60,685.10V687.10" stroke="#000" stroke-width="1.1"/>
<text x="482.60" y="694.00" font-size="7.30" text-anchor="middle" fill="#111" stroke="#111" stroke-width="0.30" font-weight="normal">15</text>
<path d="M499.00,685.10V687.10" stroke="#000" stroke-width="1.1"/>
<text x="499.00" y="694.00" font-size="7.30" text-anchor="middle" fill="#111" stroke="#111" stroke-width="0.30" font-weight="normal">20</text>
<path d="M515.40,685.10V687.10" stroke="#000" stroke-width="1.1"/>
<text x="515.40" y="694.00" font-size="7.30" text-anchor="middle" fill="#111" stroke="#111" stroke-width="0.30" font-weight="normal">25</text>
<path d="M531.80,685.10V687.10" stroke="#000" stroke-width="1.1"/>
<text x="531.80" y="694.00" font-size="7.30" text-anchor="middle" fill="#111" stroke="#111" stroke-width="0.30" font-weight="normal">30</text>
<path d="M548.20,685.10V687.10" stroke="#000" stroke-width="1.1"/>
<text x="548.20" y="694.00" font-size="7.30" text-anchor="middle" fill="#111" stroke="#111" stroke-width="0.30" font-weight="normal">35</text>
<path d="M564.60,685.10V687.10" stroke="#000" stroke-width="1.1"/>
<text x="564.60" y="694.00" font-size="7.30" text-anchor="middle" fill="#111" stroke="#111" stroke-width="0.30" font-weight="normal">40</text>
<path d="M581.00,685.10V687.10" stroke="#000" stroke-width="1.1"/>
<text x="581.00" y="694.00" font-size="7.30" text-anchor="middle" fill="#111" stroke="#111" stroke-width="0.30" font-weight="normal">45</text>
<path d="M597.40,685.10V687.10" stroke="#000" stroke-width="1.1"/>
<text x="597.40" y="694.00" font-size="7.30" text-anchor="middle" fill="#111" stroke="#111" stroke-width="0.30" font-weight="normal">50</text>
<path d="M613.80,685.10V687.10" stroke="#000" stroke-width="1.1"/>
<text x="613.80" y="694.00" font-size="7.30" text-anchor="middle" fill="#111" stroke="#111" stroke-width="0.30" font-weight="normal">55</text>
<path d="M630.20,685.10V687.10" stroke="#000" stroke-width="1.1"/>
<text x="630.20" y="694.00" font-size="7.30" text-anchor="middle" fill="#111" stroke="#111" stroke-width="0.30" font-weight="normal">60</text>
<path d="M646.60,685.10V687.10" stroke="#000" stroke-width="1.1"/>
<text x="646.60" y="694.00" font-size="7.30" text-anchor="middle" fill="#111" stroke="#111" stroke-width="0.30" font-weight="normal">65</text>
<path d="M663.00,685.10V687.10" stroke="#000" stroke-width="1.1"/>
<text x="663.00" y="694.00" font-size="7.30" text-anchor="middle" fill="#111" stroke="#111" stroke-width="0.30" font-weight="normal">70</text>
<path d="M679.40,685.10V687.10" stroke="#000" stroke-width="1.1"/>
<text x="679.40" y="694.00" font-size="7.30" text-anchor="middle" fill="#111" stroke="#111" stroke-width="0.30" font-weight="normal">75</text>
<text transform="translate(369.30,582.15) rotate(-90)" font-size="11.8" text-anchor="middle" fill="#111" stroke="#111" stroke-width="0.42">OS probability</text>
<path d="M433.50,488.50H445.50V493.50H449.50V499.50H457.50V505.50H459.50V511.50H463.50V517.50H466.50V523.50H467.50V529.50H472.50V534.50H489.50V540.50H500.50V546.50H503.50V552.50H510.50V558.50H514.50V564.50H530.50V570.50H531.50V577.50H534.50V583.50H537.50V590.50H551.50V596.50H572.50V604.50H573.50V611.50H590.50V619.50H592.50V627.50H604.50V635.50H681.50" fill="none" stroke="#4a7eba" stroke-width="1.20" stroke-linejoin="miter" stroke-linecap="butt"/>
<path d="M442.50,484.80V492.60M449.50,489.80V497.60M504.50,548.80V556.60M532.50,573.80V581.60M555.50,592.80V600.60M588.50,607.80V615.60M659.50,631.80V639.60" fill="none" stroke="#4a7eba" stroke-width="0.75"/>
<path d="M433.50,488.50H445.50V491.50H454.50V494.50H468.50V497.50H469.50V499.50H470.50V501.50H491.50V505.50H497.50V509.50H498.50V513.50H523.50V518.50H527.50V522.50H541.50V527.50H595.50V533.50H605.50V539.50H638.50V546.50H669.50V554.50H681.50" fill="none" stroke="#f05a64" stroke-width="1.20" stroke-linejoin="miter" stroke-linecap="butt"/>
<path d="M438.50,484.80V492.60M440.50,484.80V492.60M457.50,490.80V498.60M461.50,490.80V498.60M471.50,497.80V505.60M480.50,497.80V505.60M485.50,497.80V505.60M487.50,497.80V505.60M492.50,501.80V509.60M493.50,501.80V509.60M496.50,501.80V509.60M498.50,509.80V517.60M511.50,509.80V517.60M523.50,514.80V522.60M536.50,518.80V526.60M558.50,523.80V531.60M559.50,523.80V531.60M563.50,523.80V531.60M568.50,523.80V531.60M578.50,523.80V531.60M612.50,535.80V543.60M623.50,535.80V543.60M634.50,535.80V543.60M642.50,542.80V550.60M648.50,542.80V550.60M663.50,542.80V550.60M671.50,550.80V558.60M677.50,550.80V558.60M680.50,550.80V558.60" fill="none" stroke="#f05a64" stroke-width="0.75"/>
<text x="622.60" y="485.50" font-size="7.75" text-anchor="start" fill="#111" stroke="#111" stroke-width="0.30" font-weight="normal">p &lt; 0.001</text>
<text x="452.70" y="647.30" font-size="7.25" text-anchor="start" fill="#111" stroke="#111" stroke-width="0.30" font-weight="bold">HER2DX ERBB2 score</text>
<text x="478.90" y="658.30" font-size="7.40" text-anchor="start" fill="#111" stroke="#111" stroke-width="0.30" font-weight="normal">HR (95% CI)</text>
<text x="528.90" y="658.30" font-size="7.40" text-anchor="start" fill="#111" stroke="#111" stroke-width="0.30" font-weight="normal">p-value</text>
<path d="M429.00,665.50H438.00M433.50,661.90V669.10" stroke="#4a7eba" stroke-width="1.05" fill="none"/>
<text x="440.80" y="667.50" font-size="7.40" text-anchor="start" fill="#111" stroke="#111" stroke-width="0.30" font-weight="normal">Low/Med</text>
<text x="492.60" y="667.50" font-size="7.40" text-anchor="start" fill="#111" stroke="#111" stroke-width="0.30" font-weight="normal">Ref.</text>
<path d="M429.00,676.10H438.00M433.50,672.50V679.70" stroke="#f05a64" stroke-width="1.05" fill="none"/>
<text x="440.80" y="678.10" font-size="7.40" text-anchor="start" fill="#111" stroke="#111" stroke-width="0.30" font-weight="normal">High</text>
<text x="473.50" y="678.10" font-size="7.40" text-anchor="start" fill="#111" stroke="#111" stroke-width="0.30" font-weight="normal">0.26 (0.13-0.49)</text>
<text x="529.70" y="678.10" font-size="7.40" text-anchor="start" fill="#111" stroke="#111" stroke-width="0.30" font-weight="normal">&lt;0.001</text>
<text x="551.50" y="706.90" font-size="11.50" text-anchor="middle" fill="#111" stroke="#111" stroke-width="0.42" font-weight="normal">Months</text>
<text x="422.00" y="726.00" font-size="10.30" text-anchor="start" fill="#111" stroke="#111" stroke-width="0.42" font-weight="normal">Number at risk</text>
<text x="417.70" y="746.70" font-size="7.80" text-anchor="end" fill="#4a7eba" stroke="#4a7eba" stroke-width="0.30" font-weight="normal">Low/Medium</text>
<text x="417.70" y="771.00" font-size="7.80" text-anchor="end" fill="#f05a64" stroke="#f05a64" stroke-width="0.30" font-weight="normal">High</text>
<g clip-path="url(#cr)">
<text x="434.30" y="746.70" font-size="7.50" text-anchor="middle" fill="#111" stroke="#111" stroke-width="0.30" font-weight="normal">34</text>
<text x="450.70" y="746.70" font-size="7.50" text-anchor="middle" fill="#111" stroke="#111" stroke-width="0.30" font-weight="normal">30</text>
<text x="467.10" y="746.70" font-size="7.50" text-anchor="middle" fill="#111" stroke="#111" stroke-width="0.30" font-weight="normal">27</text>
<text x="483.50" y="746.70" font-size="7.50" text-anchor="middle" fill="#111" stroke="#111" stroke-width="0.30" font-weight="normal">24</text>
<text x="499.90" y="746.70" font-size="7.50" text-anchor="middle" fill="#111" stroke="#111" stroke-width="0.30" font-weight="normal">23</text>
<text x="516.30" y="746.70" font-size="7.50" text-anchor="middle" fill="#111" stroke="#111" stroke-width="0.30" font-weight="normal">18</text>
<text x="532.70" y="746.70" font-size="7.50" text-anchor="middle" fill="#111" stroke="#111" stroke-width="0.30" font-weight="normal">16</text>
<text x="549.10" y="746.70" font-size="7.50" text-anchor="middle" fill="#111" stroke="#111" stroke-width="0.30" font-weight="normal">13</text>
<text x="565.50" y="746.70" font-size="7.50" text-anchor="middle" fill="#111" stroke="#111" stroke-width="0.30" font-weight="normal">11</text>
<text x="581.90" y="746.70" font-size="7.50" text-anchor="middle" fill="#111" stroke="#111" stroke-width="0.30" font-weight="normal">9</text>
<text x="598.30" y="746.70" font-size="7.50" text-anchor="middle" fill="#111" stroke="#111" stroke-width="0.30" font-weight="normal">6</text>
<text x="614.70" y="746.70" font-size="7.50" text-anchor="middle" fill="#111" stroke="#111" stroke-width="0.30" font-weight="normal">5</text>
<text x="631.10" y="746.70" font-size="7.50" text-anchor="middle" fill="#111" stroke="#111" stroke-width="0.30" font-weight="normal">5</text>
<text x="647.50" y="746.70" font-size="7.50" text-anchor="middle" fill="#111" stroke="#111" stroke-width="0.30" font-weight="normal">5</text>
<text x="663.90" y="746.70" font-size="7.50" text-anchor="middle" fill="#111" stroke="#111" stroke-width="0.30" font-weight="normal">4</text>
<text x="680.30" y="746.70" font-size="7.50" text-anchor="middle" fill="#111" stroke="#111" stroke-width="0.30" font-weight="normal">4</text>
<text x="434.30" y="771.00" font-size="7.50" text-anchor="middle" fill="#111" stroke="#111" stroke-width="0.30" font-weight="normal">60</text>
<text x="450.70" y="771.00" font-size="7.50" text-anchor="middle" fill="#111" stroke="#111" stroke-width="0.30" font-weight="normal">56</text>
<text x="467.10" y="771.00" font-size="7.50" text-anchor="middle" fill="#111" stroke="#111" stroke-width="0.30" font-weight="normal">53</text>
<text x="483.50" y="771.00" font-size="7.50" text-anchor="middle" fill="#111" stroke="#111" stroke-width="0.30" font-weight="normal">48</text>
<text x="499.90" y="771.00" font-size="7.50" text-anchor="middle" fill="#111" stroke="#111" stroke-width="0.30" font-weight="normal">38</text>
<text x="516.30" y="771.00" font-size="7.50" text-anchor="middle" fill="#111" stroke="#111" stroke-width="0.30" font-weight="normal">37</text>
<text x="532.70" y="771.00" font-size="7.50" text-anchor="middle" fill="#111" stroke="#111" stroke-width="0.30" font-weight="normal">34</text>
<text x="549.10" y="771.00" font-size="7.50" text-anchor="middle" fill="#111" stroke="#111" stroke-width="0.30" font-weight="normal">31</text>
<text x="565.50" y="771.00" font-size="7.50" text-anchor="middle" fill="#111" stroke="#111" stroke-width="0.30" font-weight="normal">27</text>
<text x="581.90" y="771.00" font-size="7.50" text-anchor="middle" fill="#111" stroke="#111" stroke-width="0.30" font-weight="normal">25</text>
<text x="598.30" y="771.00" font-size="7.50" text-anchor="middle" fill="#111" stroke="#111" stroke-width="0.30" font-weight="normal">24</text>
<text x="614.70" y="771.00" font-size="7.50" text-anchor="middle" fill="#111" stroke="#111" stroke-width="0.30" font-weight="normal">22</text>
<text x="631.10" y="771.00" font-size="7.50" text-anchor="middle" fill="#111" stroke="#111" stroke-width="0.30" font-weight="normal">21</text>
<text x="647.50" y="771.00" font-size="7.50" text-anchor="middle" fill="#111" stroke="#111" stroke-width="0.30" font-weight="normal">18</text>
<text x="663.90" y="771.00" font-size="7.50" text-anchor="middle" fill="#111" stroke="#111" stroke-width="0.30" font-weight="normal">17</text>
<text x="680.30" y="771.00" font-size="7.50" text-anchor="middle" fill="#111" stroke="#111" stroke-width="0.30" font-weight="normal">13</text>
</g></g>
<text transform="translate(1.20,18.80) scale(1.07,1)" font-size="24.50" font-weight="bold" fill="#000" stroke="#000" stroke-width="0.50">A</text>
<text x="358.30" y="18.80" font-size="24.50" font-weight="bold" fill="#000" stroke="#000" stroke-width="0.50">B</text>
<text x="1.00" y="440.00" font-size="24.50" font-weight="bold" fill="#000" stroke="#000" stroke-width="0.50">C</text>
<text x="358.30" y="440.00" font-size="24.50" font-weight="bold" fill="#000" stroke="#000" stroke-width="0.50">D</text>
</svg>
</body></html>
